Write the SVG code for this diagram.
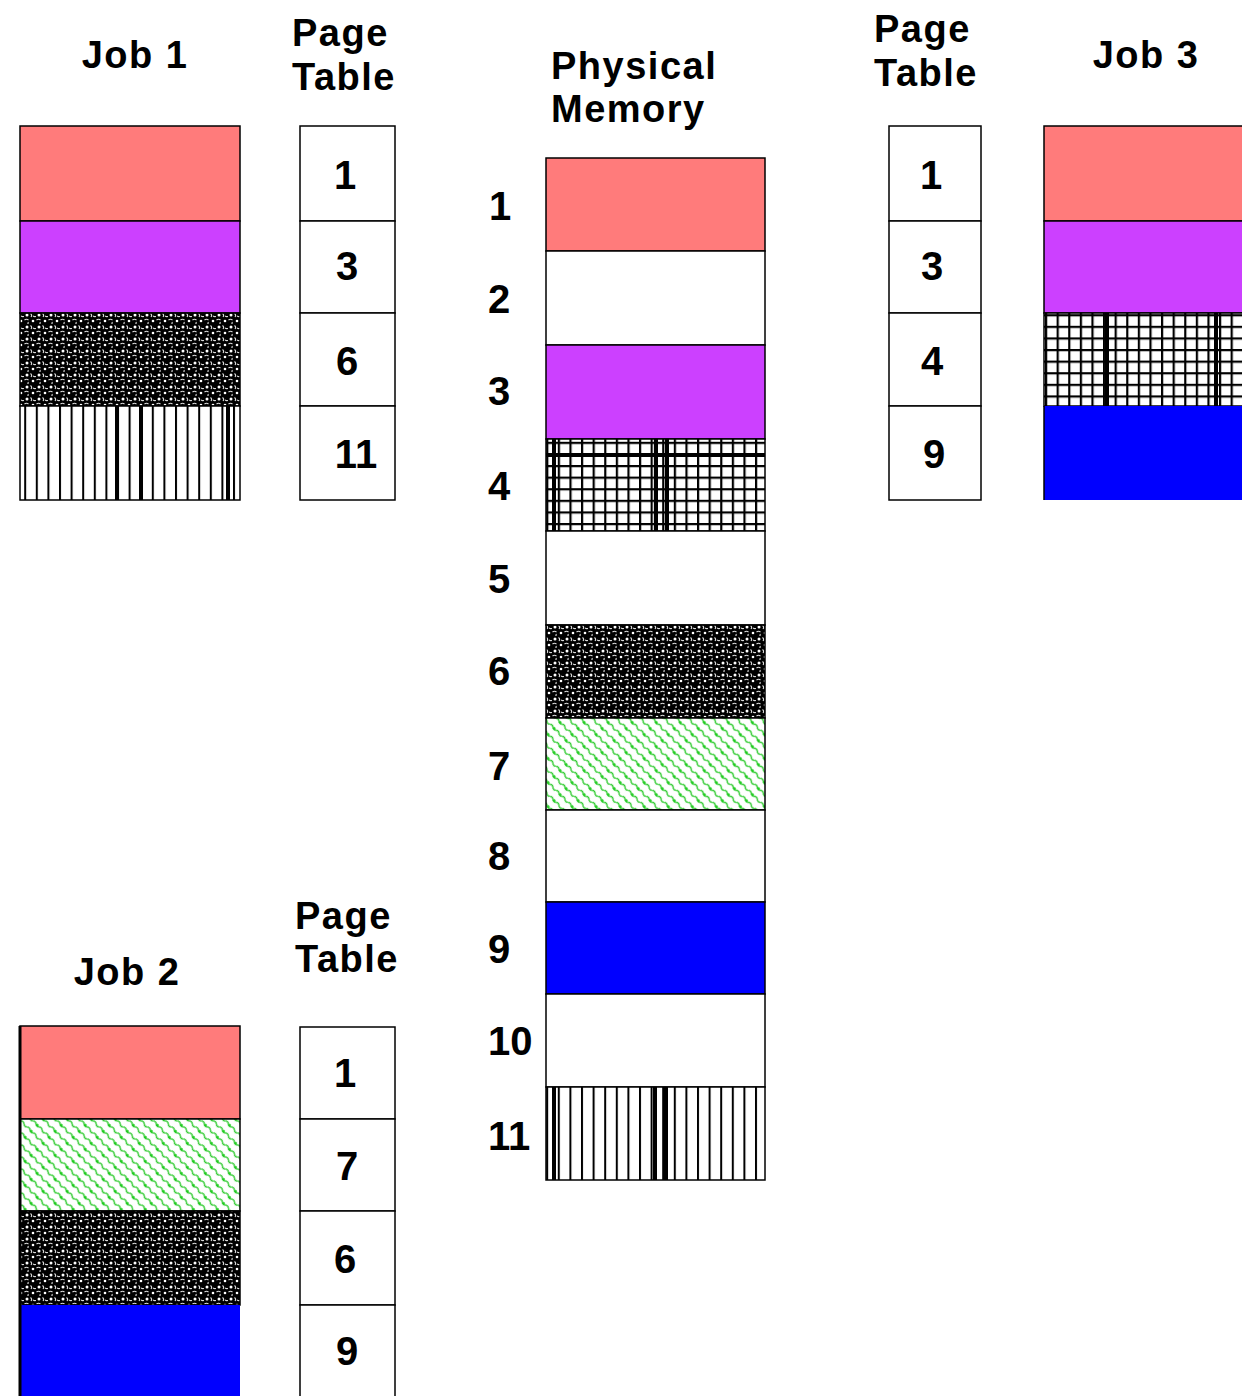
<svg xmlns="http://www.w3.org/2000/svg" width="1242" height="1396" viewBox="0 0 1242 1396">
<style>
text{font-family:"Liberation Sans",Arial,sans-serif;font-weight:bold;fill:#000}
.h{font-size:38px;letter-spacing:1.5px}
.n{font-size:40px}
.c{text-anchor:middle}
.b{stroke:#000;stroke-width:1.5}
.sal{fill:#FF7B7B}
.pur{fill:#CC40FF}
.blu{fill:#0000FF}
.wht{fill:#fff}
.dot{fill:url(#dots)}
.vl{fill:url(#vlines)}
.gr{fill:url(#grid)}
.gn{fill:url(#green)}
.thick{fill:#000}
</style>
<defs>
<pattern id="dots" patternUnits="userSpaceOnUse" width="12" height="12">
<rect width="12" height="12" fill="#000"/>
<circle cx="3" cy="3" r="1.5" fill="#fff"/>
<circle cx="9" cy="9" r="1.3" fill="#fff"/>
<path d="M6.5 1.5 q2 1.5 0.5 3.5 M0.5 8 q2 -1.5 4 0 M9 4 q1.5 1 3 0.5 M4 10 q0.5 1.5 -0.5 2" stroke="#ddd" stroke-width="1.1" fill="none"/>
</pattern>
<pattern id="vlines" patternUnits="userSpaceOnUse" width="11.6" height="20" x="1">
<rect width="11.6" height="20" fill="#fff"/>
<rect x="0" width="2" height="20" fill="#000"/>
</pattern>
<pattern id="grid" patternUnits="userSpaceOnUse" width="11.6" height="11.6" x="1" y="1">
<rect width="11.6" height="11.6" fill="#fff"/>
<rect x="0" width="2.2" height="11.6" fill="#000"/>
<rect y="0" width="11.6" height="2.2" fill="#000"/>
</pattern>
<pattern id="green" patternUnits="userSpaceOnUse" width="17" height="8.5" patternTransform="rotate(45)">
<rect width="17" height="8.5" fill="#fff"/>
<path d="M0 4.25 q2.1 -2 4.25 0 t4.25 0 t4.25 0 t4.25 0" stroke="#33CC33" stroke-width="1.4" fill="none"/>
<circle cx="6" cy="4.25" r="1.5" fill="#22CC22"/>
</pattern>
</defs>

<g id="job1">
<text class="h c" x="135" y="68">Job 1</text>
<rect class="sal b" x="20" y="126" width="220" height="95"/>
<rect class="pur b" x="20" y="221" width="220" height="92"/>
<rect class="dot b" x="20" y="313" width="220" height="93"/>
<rect class="vl b" x="20" y="406" width="220" height="94"/>
<rect class="thick" x="115" y="406" width="4" height="94"/>
<rect class="thick" x="139" y="406" width="4" height="94"/>
<rect class="thick" x="226" y="406" width="4" height="94"/>
</g>

<g id="pagetable1">
<text class="h" x="292" y="46">Page</text>
<text class="h" x="292" y="90">Table</text>
<rect class="wht b" x="300" y="126" width="95" height="95"/>
<rect class="wht b" x="300" y="221" width="95" height="92"/>
<rect class="wht b" x="300" y="313" width="95" height="93"/>
<rect class="wht b" x="300" y="406" width="95" height="94"/>
<text class="n c" x="345" y="189">1</text>
<text class="n c" x="347" y="280">3</text>
<text class="n c" x="347" y="375">6</text>
<text class="n c" x="356" y="468">11</text>
</g>

<g id="physical">
<text class="h" x="551" y="79">Physical</text>
<text class="h" x="551" y="122">Memory</text>
<rect class="sal b" x="546" y="158" width="219" height="93"/>
<rect class="wht b" x="546" y="251" width="219" height="94"/>
<rect class="pur b" x="546" y="345" width="219" height="94"/>
<rect class="gr b" x="546" y="439" width="219" height="92"/>
<rect class="thick" x="552" y="439" width="4" height="92"/>
<rect class="thick" x="654" y="439" width="4" height="92"/>
<rect class="thick" x="665" y="439" width="4" height="92"/>
<rect class="thick" x="546" y="453" width="219" height="4"/>
<rect class="wht b" x="546" y="531" width="219" height="94"/>
<rect class="dot b" x="546" y="625" width="219" height="93"/>
<rect class="gn b" x="546" y="718" width="219" height="92"/>
<rect class="wht b" x="546" y="810" width="219" height="92"/>
<rect class="blu b" x="546" y="902" width="219" height="92"/>
<rect class="wht b" x="546" y="994" width="219" height="93"/>
<rect class="vl b" x="546" y="1087" width="219" height="93"/>
<rect class="thick" x="552" y="1087" width="4" height="93"/>
<rect class="thick" x="653" y="1087" width="4" height="93"/>
<rect class="thick" x="664" y="1087" width="4" height="93"/>
<text class="n" x="489" y="220">1</text>
<text class="n" x="488" y="313">2</text>
<text class="n" x="488" y="405">3</text>
<text class="n" x="488" y="500">4</text>
<text class="n" x="488" y="593">5</text>
<text class="n" x="488" y="685">6</text>
<text class="n" x="488" y="780">7</text>
<text class="n" x="488" y="870">8</text>
<text class="n" x="488" y="963">9</text>
<text class="n" x="488" y="1055">10</text>
<text class="n" x="488" y="1150">11</text>
</g>

<g id="pagetable3">
<text class="h" x="874" y="42">Page</text>
<text class="h" x="874" y="86">Table</text>
<rect class="wht b" x="889" y="126" width="92" height="95"/>
<rect class="wht b" x="889" y="221" width="92" height="92"/>
<rect class="wht b" x="889" y="313" width="92" height="93"/>
<rect class="wht b" x="889" y="406" width="92" height="94"/>
<text class="n c" x="931" y="189">1</text>
<text class="n c" x="932" y="280">3</text>
<text class="n c" x="932" y="375">4</text>
<text class="n c" x="934" y="468">9</text>
</g>

<g id="job3">
<text class="h c" x="1146" y="68">Job 3</text>
<rect class="sal b" x="1044" y="126" width="210" height="95"/>
<rect class="pur b" x="1044" y="221" width="210" height="92"/>
<rect class="gr b" x="1044" y="313" width="210" height="93"/>
<rect class="thick" x="1105" y="313" width="4" height="93"/>
<rect class="thick" x="1214" y="313" width="4" height="93"/>
<rect class="blu" x="1044" y="406" width="210" height="94"/>
<line class="b" x1="1044" y1="406" x2="1044" y2="500"/>
</g>

<g id="job2">
<text class="h c" x="127" y="985">Job 2</text>
<rect class="sal b" x="20" y="1026" width="220" height="93"/>
<rect class="gn b" x="20" y="1119" width="220" height="92"/>
<rect class="dot b" x="20" y="1211" width="220" height="94"/>
<rect class="blu" x="20" y="1305" width="220" height="100"/>
<line x1="20" y1="1026" x2="20" y2="1396" stroke="#000" stroke-width="3"/>
</g>

<g id="pagetable2">
<text class="h" x="295" y="929">Page</text>
<text class="h" x="295" y="972">Table</text>
<rect class="wht b" x="300" y="1027" width="95" height="92"/>
<rect class="wht b" x="300" y="1119" width="95" height="92"/>
<rect class="wht b" x="300" y="1211" width="95" height="94"/>
<rect class="wht b" x="300" y="1305" width="95" height="100"/>
<text class="n c" x="345" y="1087">1</text>
<text class="n c" x="347" y="1180">7</text>
<text class="n c" x="345" y="1273">6</text>
<text class="n c" x="347" y="1365">9</text>
</g>

<g id="connectors"/>
</svg>
